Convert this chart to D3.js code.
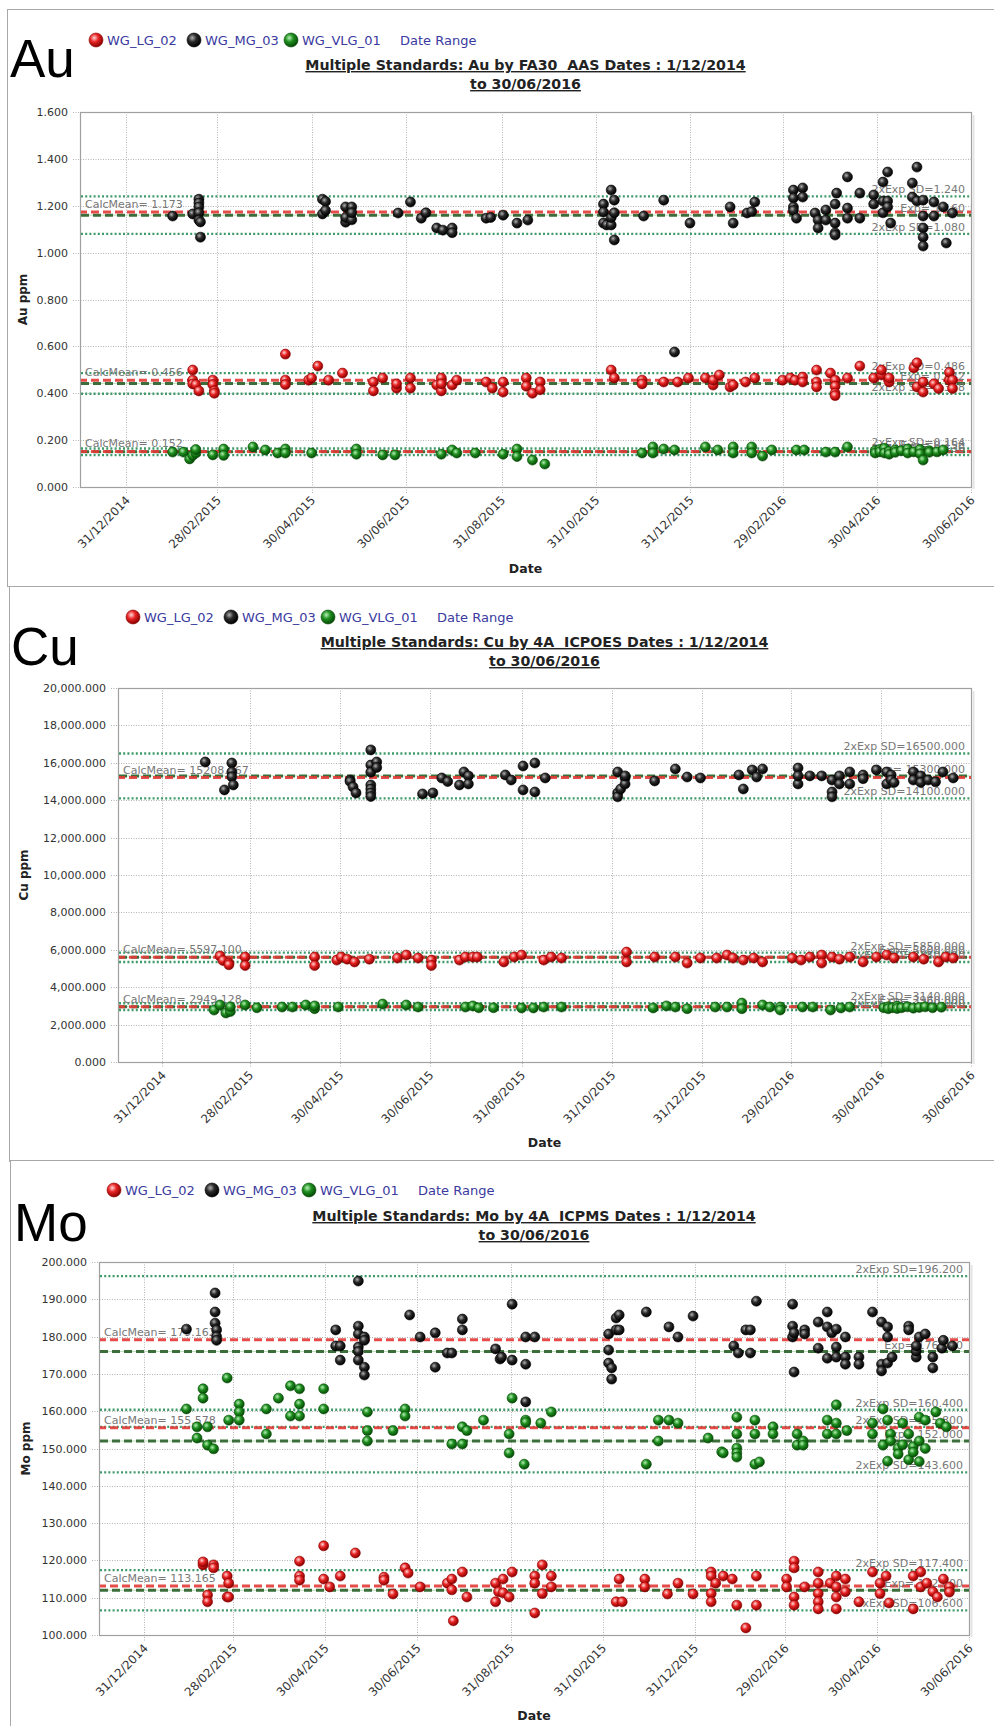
<!DOCTYPE html>
<html><head><meta charset="utf-8">
<script src="https://cdn.jsdelivr.net/npm/d3@7"></script>
<style>
body{margin:0;background:#fff;}
svg{display:block;font-family:"DejaVu Sans",Verdana,sans-serif;}
</style></head><body>
<svg id="c" width="994" height="1726"></svg>
<script>
// ---------- DATA ----------
const seriesNames = ["WG_LG_02","WG_MG_03","WG_VLG_01"];
const xTickDates = ["2014-12-31","2015-02-28","2015-04-30","2015-06-30","2015-08-31","2015-10-31","2015-12-31","2016-02-29","2016-04-30","2016-06-30"];
const dateDomain = ["2014-12-01","2016-06-30"];

const auYTicks = [0,0.2,0.4,0.6,0.8,1.0,1.2,1.4,1.6];
const cuYTicks = [0,2000,4000,6000,8000,10000,12000,14000,16000,18000,20000];
const moYTicks = [100,110,120,130,140,150,160,170,180,190,200];

// [series, CalcMean, Exp, 2xExpSD high, 2xExpSD low]
const auLines = [["WG_MG_03",1.173,1.160,1.240,1.080],["WG_LG_02",0.456,0.442,0.486,0.398],["WG_VLG_01",0.152,0.150,0.164,0.136]];
const cuLines = [["WG_MG_03",15208.267,15300,16500,14100],["WG_LG_02",5597.100,5600,5850,5350],["WG_VLG_01",2949.128,2960,3140,2780]];
const moLines = [["WG_MG_03",179.162,176.0,196.2,155.8],["WG_VLG_01",155.578,152.0,160.4,143.6],["WG_LG_02",113.165,112.0,117.4,106.6]];

// [date, value, value, ...]
const auMG = [["2015-01-30",1.156],["2015-02-12",1.165],["2015-02-16",1.228,1.212,1.195,1.170,1.139],["2015-02-17",1.131,1.066],["2015-05-07",1.228,1.165],["2015-05-09",1.218,1.180],["2015-05-22",1.195,1.130,1.150],["2015-05-26",1.195,1.140,1.170],["2015-06-25",1.169],["2015-07-03",1.216],["2015-07-10",1.147],["2015-07-13",1.170],["2015-07-20",1.105],["2015-07-24",1.096],["2015-07-30",1.105,1.085],["2015-08-21",1.147],["2015-08-24",1.150],["2015-09-01",1.160],["2015-09-10",1.126],["2015-09-17",1.139],["2015-11-05",1.207,1.173,1.126],["2015-11-07",1.118],["2015-11-10",1.267,1.118,1.150],["2015-11-12",1.224,1.054,1.170],["2015-12-01",1.156],["2015-12-14",1.224],["2015-12-21",0.576],["2015-12-31",1.126],["2016-01-26",1.195],["2016-01-28",1.126],["2016-02-06",1.169],["2016-02-09",1.175],["2016-02-11",1.216],["2016-03-07",1.267,1.233,1.195,1.180],["2016-03-09",1.147],["2016-03-13",1.276,1.237],["2016-03-21",1.169],["2016-03-23",1.139,1.105],["2016-03-28",1.182,1.139],["2016-04-03",1.126,1.207,1.084,1.075],["2016-04-04",1.254],["2016-04-11",1.323,1.190,1.147],["2016-04-19",1.254,1.147],["2016-04-28",1.246,1.207],["2016-05-04",1.301,1.220,1.170],["2016-05-07",1.344,1.220,1.195],["2016-05-09",1.126],["2016-05-23",1.297,1.237],["2016-05-26",1.365,1.220],["2016-05-30",1.224,1.156,1.105,1.066,1.028],["2016-06-06",1.216,1.156],["2016-06-12",1.195],["2016-06-14",1.041],["2016-06-18",1.169]];
const auLG = [["2015-02-12",0.499,0.456,0.440],["2015-02-14",0.437],["2015-02-16",0.410],["2015-02-25",0.456,0.437],["2015-02-26",0.410,0.400],["2015-04-13",0.567,0.456,0.437],["2015-04-28",0.456],["2015-04-30",0.465],["2015-05-04",0.516],["2015-05-11",0.456],["2015-05-20",0.486],["2015-06-09",0.448,0.410],["2015-06-15",0.465],["2015-06-24",0.422,0.440],["2015-07-03",0.465,0.422],["2015-07-20",0.435],["2015-07-23",0.465,0.410,0.440],["2015-07-30",0.435],["2015-08-02",0.456],["2015-08-21",0.448],["2015-08-25",0.422],["2015-09-01",0.448,0.405],["2015-09-16",0.465,0.430],["2015-09-20",0.400],["2015-09-25",0.448,0.415],["2015-11-10",0.499],["2015-11-12",0.465],["2015-11-30",0.456,0.440],["2015-12-14",0.448],["2015-12-23",0.448],["2015-12-30",0.465],["2016-01-10",0.465],["2016-01-15",0.435,0.456],["2016-01-19",0.478],["2016-01-26",0.427],["2016-01-28",0.435],["2016-02-05",0.448],["2016-02-11",0.465],["2016-02-29",0.456],["2016-03-05",0.465],["2016-03-08",0.456],["2016-03-13",0.469,0.448],["2016-03-22",0.499,0.448,0.427],["2016-03-31",0.486],["2016-04-03",0.456,0.430,0.400,0.390],["2016-04-11",0.465],["2016-04-19",0.516],["2016-04-28",0.465],["2016-05-03",0.478,0.499],["2016-05-08",0.448,0.465],["2016-05-24",0.508],["2016-05-26",0.530,0.427],["2016-05-30",0.405,0.448],["2016-06-06",0.440],["2016-06-09",0.420],["2016-06-16",0.456,0.489],["2016-06-18",0.456,0.420]];
const auVLG = [["2015-01-30",0.149],["2015-02-06",0.149],["2015-02-10",0.120],["2015-02-12",0.135],["2015-02-14",0.145,0.160],["2015-02-25",0.137],["2015-03-04",0.162,0.135],["2015-03-23",0.171],["2015-03-31",0.158],["2015-04-08",0.145],["2015-04-13",0.162,0.145],["2015-04-30",0.145],["2015-05-29",0.162,0.140],["2015-06-15",0.137],["2015-06-23",0.137],["2015-07-23",0.140],["2015-07-30",0.158],["2015-08-02",0.145],["2015-08-14",0.145],["2015-09-01",0.140],["2015-09-10",0.162,0.130],["2015-09-20",0.115],["2015-09-28",0.098],["2015-11-30",0.145],["2015-12-07",0.171,0.145],["2015-12-14",0.162],["2015-12-21",0.158],["2016-01-10",0.171],["2016-01-18",0.158],["2016-01-28",0.171,0.145],["2016-02-09",0.171,0.145],["2016-02-16",0.132],["2016-02-22",0.158],["2016-03-09",0.158],["2016-03-14",0.158],["2016-03-28",0.149],["2016-04-03",0.149],["2016-04-11",0.171],["2016-04-29",0.155,0.145],["2016-05-02",0.160,0.150],["2016-05-05",0.165,0.145],["2016-05-08",0.152,0.140],["2016-05-12",0.158,0.148],["2016-05-16",0.155],["2016-05-20",0.162,0.145],["2016-05-24",0.150],["2016-05-28",0.160,0.142],["2016-05-30",0.115],["2016-06-03",0.155,0.148],["2016-06-08",0.150],["2016-06-12",0.158]];

const cuMG = [["2015-01-29",16044],["2015-02-11",14550],["2015-02-16",15990,15510,15250],["2015-02-17",14815],["2015-05-07",15080,15000],["2015-05-09",14710],["2015-05-11",14390],["2015-05-21",16690,15880,15500,14815,14600,14390,14200],["2015-05-25",16045,15750],["2015-06-25",14335],["2015-07-02",14390],["2015-07-08",15190],["2015-07-12",15000],["2015-07-20",14815],["2015-07-23",15510],["2015-07-26",15300,14870],["2015-08-20",15350],["2015-08-24",15080],["2015-09-01",15830,14550],["2015-09-09",15990,14440],["2015-09-16",15190],["2015-11-04",15510,14390,14180],["2015-11-06",14600],["2015-11-09",15190,14870,15300],["2015-11-29",15030],["2015-12-13",15670],["2015-12-21",15240],["2015-12-30",15190],["2016-01-25",15350],["2016-01-28",14600],["2016-02-03",15620],["2016-02-06",15240],["2016-02-10",15670],["2016-03-05",15720,14870,15300],["2016-03-13",15300],["2016-03-21",15300],["2016-03-28",14440,14180,15080],["2016-04-02",15300,14870],["2016-04-09",15510,14870],["2016-04-18",15350,15150],["2016-04-27",15620],["2016-05-04",15510,14870],["2016-05-07",15350,15080],["2016-05-09",14950],["2016-05-22",15510,15080],["2016-05-27",15300,14950],["2016-06-01",15080],["2016-06-06",14980],["2016-06-11",15510],["2016-06-18",15190]];
const cuLG = [["2015-02-08",5670],["2015-02-10",5430],["2015-02-14",5290,5200],["2015-02-25",5615,5160],["2015-04-13",5615,5160],["2015-04-28",5450],["2015-05-01",5615],["2015-05-05",5500],["2015-05-10",5350],["2015-05-20",5500],["2015-06-08",5560],["2015-06-14",5720],["2015-06-22",5560],["2015-07-01",5450,5160],["2015-07-20",5450],["2015-07-24",5615],["2015-07-29",5615],["2015-08-01",5615],["2015-08-19",5350],["2015-08-26",5615],["2015-08-31",5720],["2015-09-15",5450],["2015-09-20",5615],["2015-09-27",5560],["2015-11-10",5880,5350],["2015-11-29",5615],["2015-12-13",5615],["2015-12-21",5290],["2015-12-30",5560],["2016-01-10",5560],["2016-01-17",5720],["2016-01-21",5560],["2016-01-28",5450],["2016-02-04",5560],["2016-02-10",5350],["2016-03-01",5560],["2016-03-07",5450],["2016-03-13",5615],["2016-03-21",5720,5290],["2016-03-28",5615],["2016-04-02",5500],["2016-04-09",5615],["2016-04-18",5350],["2016-04-27",5615],["2016-05-04",5720],["2016-05-09",5560],["2016-05-22",5615],["2016-05-29",5500],["2016-06-08",5350],["2016-06-13",5615],["2016-06-18",5560]];
const cuVLG = [["2015-02-04",2780],["2015-02-08",3050],["2015-02-12",2620],["2015-02-15",2700,2950],["2015-02-25",3050],["2015-03-05",2900],["2015-03-22",2940],["2015-03-29",2940],["2015-04-07",3050],["2015-04-13",2850,3000],["2015-04-29",2940],["2015-05-29",3100],["2015-06-14",3050],["2015-06-22",2940],["2015-07-24",2940],["2015-07-29",3000],["2015-08-02",2900],["2015-08-12",2900],["2015-08-31",2890],["2015-09-08",2890],["2015-09-15",2940],["2015-09-27",2940],["2015-11-28",2890],["2015-12-07",3000],["2015-12-13",2940],["2015-12-21",2850],["2016-01-09",2940],["2016-01-17",2940],["2016-01-27",3150,2850],["2016-02-10",3050],["2016-02-15",2940],["2016-02-22",2940,2780],["2016-03-08",2940],["2016-03-15",2940],["2016-03-27",2780],["2016-04-03",2890],["2016-04-09",2940],["2016-05-02",2900],["2016-05-05",2950,2850],["2016-05-08",2900],["2016-05-11",2980,2860],["2016-05-14",2900],["2016-05-18",2950],["2016-05-22",2880],["2016-05-26",2920],["2016-05-30",2950],["2016-06-04",2900],["2016-06-10",2930]];

const moMG = [["2015-01-28",182.0],["2015-02-16",191.7,186.6,183.6],["2015-02-17",181.8,180.0,179.0],["2015-05-07",181.8,177.5],["2015-05-10",177.5,173.7],["2015-05-22",194.9,182.8,180.7,177.2,176.0,173.7],["2015-05-26",179.9,179.0,171.8,169.7],["2015-06-25",185.8],["2015-07-02",179.9],["2015-07-12",181.0,171.8],["2015-07-20",175.6],["2015-07-23",175.6],["2015-07-30",184.7,181.8],["2015-08-21",176.7],["2015-08-24",174.0],["2015-08-25",174.5],["2015-09-01",188.7,173.7],["2015-09-10",179.9,172.6,162.5],["2015-09-16",179.9],["2015-11-04",180.7,176.4,172.9],["2015-11-06",171.6,168.6],["2015-11-09",181.8,185.0],["2015-11-11",181.8,185.8],["2015-11-29",186.6],["2015-12-14",182.6],["2015-12-20",179.9],["2015-12-30",185.5],["2016-01-26",177.5],["2016-01-29",175.6],["2016-02-03",181.8],["2016-02-06",181.8,175.6],["2016-02-10",189.5],["2016-03-05",188.7,182.8,179.9],["2016-03-06",170.5,181.0],["2016-03-13",181.8,180.7],["2016-03-22",183.9,176.9],["2016-03-28",186.6,182.6,174.2],["2016-03-31",181.0],["2016-04-03",182.0,177.2,174.5],["2016-04-09",179.9,174.5,172.6],["2016-04-18",174.5,172.6],["2016-04-27",186.6],["2016-05-03",183.9,172.6,170.8],["2016-05-07",182.6,179.9,172.9],["2016-05-10",174.5],["2016-05-21",182.8,181.8],["2016-05-26",174.5,176.1,177.5],["2016-05-28",179.9],["2016-06-01",180.7],["2016-06-06",174.5,171.6],["2016-06-12",176.9],["2016-06-13",179.0],["2016-06-19",177.5]];
const moVLG = [["2015-01-28",160.6],["2015-02-04",155.8,152.8],["2015-02-08",166.0,163.5],["2015-02-11",155.8,150.9],["2015-02-15",149.9],["2015-02-24",168.9],["2015-02-25",157.6],["2015-03-04",161.9,159.8,157.6],["2015-03-22",160.6,153.9],["2015-03-30",163.5],["2015-04-07",166.8,158.7],["2015-04-13",166.0,161.9,158.7],["2015-04-29",166.0,160.6],["2015-05-28",159.8,154.8,152.0],["2015-06-14",154.8],["2015-06-22",160.6,158.7],["2015-07-23",151.2],["2015-07-30",155.8,151.2],["2015-08-02",154.8],["2015-08-13",157.6],["2015-08-30",153.9,148.8],["2015-09-01",163.5],["2015-09-09",145.8],["2015-09-10",157.6,157.0],["2015-09-20",156.8],["2015-09-27",159.8],["2015-11-29",145.8],["2015-12-07",157.6,152.0],["2015-12-14",157.6],["2015-12-20",156.8],["2016-01-09",152.8],["2016-01-18",149.1],["2016-01-19",148.8],["2016-01-28",158.4,153.9,150.1,148.8,147.7],["2016-02-09",157.6,153.9,145.8],["2016-02-12",146.4],["2016-02-21",155.8,153.9],["2016-03-08",153.9,150.9],["2016-03-12",152.0,150.9],["2016-03-28",157.6,153.9],["2016-04-03",161.7,156.8,153.9],["2016-04-10",154.8],["2016-04-27",156.8,153.9],["2016-05-04",160.6,150.9],["2016-05-07",157.6,146.6],["2016-05-09",153.9,152.0],["2016-05-14",150.1,148.5],["2016-05-17",156.8,151.0],["2016-05-21",153.9,147.0],["2016-05-24",150.5,149.0],["2016-05-28",152.0,158.4,146.5],["2016-06-01",157.6,150.0],["2016-06-08",159.8],["2016-06-11",156.8],["2016-06-15",155.8]];
const moLG = [["2015-02-08",118.8,119.6],["2015-02-11",110.7,108.9],["2015-02-15",118.8,118.0],["2015-02-24",115.8,110.2],["2015-02-25",113.9,110.2],["2015-04-13",119.8,115.8,114.7],["2015-04-29",123.9,115.0],["2015-05-03",112.9],["2015-05-10",115.8],["2015-05-20",122.0],["2015-06-08",115.5,114.7],["2015-06-14",111.0],["2015-06-22",118.0],["2015-06-24",116.6],["2015-07-02",112.9],["2015-07-20",113.9],["2015-07-23",115.0,112.1],["2015-07-24",103.8],["2015-07-30",116.9],["2015-08-02",110.2],["2015-08-21",113.9,108.9],["2015-08-23",111.6],["2015-08-26",115.0,111.3],["2015-08-30",110.2],["2015-09-01",116.9],["2015-09-16",115.8,113.9,105.9],["2015-09-21",118.8,111.1],["2015-09-27",115.8,112.9],["2015-11-09",108.9],["2015-11-11",115.0],["2015-11-13",108.9],["2015-11-28",115.0,112.9],["2015-12-13",111.0],["2015-12-20",113.9],["2015-12-30",111.0],["2016-01-11",116.9,115.8,111.1,108.9],["2016-01-14",113.9],["2016-01-19",115.8],["2016-01-25",115.0],["2016-01-28",108.0],["2016-02-03",101.9],["2016-02-10",115.8,108.0],["2016-03-01",115.0,112.9],["2016-03-06",119.8,118.0,110.2,108.0],["2016-03-13",112.9],["2016-03-22",116.9,113.9,111.1,108.9,107.0],["2016-03-30",113.9],["2016-04-03",115.8,112.9,110.2,107.0],["2016-04-09",115.0,111.6],["2016-04-18",108.9],["2016-04-27",116.9],["2016-05-02",113.9,111.1],["2016-05-06",115.8],["2016-05-08",108.6],["2016-05-24",115.8,107.0],["2016-05-29",116.9,112.9],["2016-06-02",113.9],["2016-06-06",111.6],["2016-06-09",110.2],["2016-06-13",115.0],["2016-06-17",112.9,111.5]];

// ---------- RENDER ----------
const parse = d3.timeParse("%Y-%m-%d");
const fmtDate = d3.timeFormat("%d/%m/%Y");
const f3 = d3.format(".3f");
function expand(groups){const out=[];groups.forEach(g=>{for(let i=1;i<g.length;i++)out.push({date:parse(g[0]),v:g[i]});});return out;}

const svg = d3.select("#c");
const defs = svg.append("defs");
const palette = {
  "WG_LG_02":["#ffd6d6","#e82424","#8a0000"],
  "WG_MG_03":["#b0b0b0","#2a2a2a","#000000"],
  "WG_VLG_01":["#b6f0b6","#1f8f1f","#064a06"]
};
seriesNames.forEach((s,i)=>{
  const g = defs.append("radialGradient").attr("id","g"+i).attr("cx","38%").attr("cy","35%").attr("r","65%");
  g.append("stop").attr("offset","0%").attr("stop-color",palette[s][0]);
  g.append("stop").attr("offset","45%").attr("stop-color",palette[s][1]);
  g.append("stop").attr("offset","100%").attr("stop-color",palette[s][2]);
});
const fillOf = s => "url(#g"+seriesNames.indexOf(s)+")";

const panels = [
 {el:"Au", top:9, left:7, bottom:586, p:{l:80,t:112,r:971,b:487}, dom:[0,1.6], ticks:auYTicks, tf:d3.format(".3f"),
  title:["Multiple Standards: Au by FA30  AAS Dates : 1/12/2014","to 30/06/2016"], ty:[70,89], leg:{x:96,y:40}, big:{x:10,y:77}, ylx:27, dy:573,
  data:{"WG_LG_02":auLG,"WG_MG_03":auMG,"WG_VLG_01":auVLG}, lines:auLines},
 {el:"Cu", top:586, left:9, bottom:1161, p:{l:118,t:688,r:971,b:1062}, dom:[0,20000], ticks:cuYTicks, tf:d3.format(",.3f"),
  title:["Multiple Standards: Cu by 4A  ICPOES Dates : 1/12/2014","to 30/06/2016"], ty:[647,666], leg:{x:133,y:617}, big:{x:11,y:665}, ylx:28, dy:1147,
  data:{"WG_LG_02":cuLG,"WG_MG_03":cuMG,"WG_VLG_01":cuVLG}, lines:cuLines},
 {el:"Mo", top:1160, left:10, bottom:1800, p:{l:99,t:1262,r:969,b:1635}, dom:[100,200], ticks:moYTicks, tf:d3.format(".3f"),
  title:["Multiple Standards: Mo by 4A  ICPMS Dates : 1/12/2014","to 30/06/2016"], ty:[1221,1240], leg:{x:114,y:1190}, big:{x:14,y:1241}, ylx:30, dy:1720,
  data:{"WG_LG_02":moLG,"WG_MG_03":moMG,"WG_VLG_01":moVLG}, lines:moLines}
];

panels.forEach(P=>{
  const g = svg.append("g");
  const p = P.p;
  g.append("rect").attr("x",P.left+0.5).attr("y",P.top+0.5).attr("width",1000-P.left).attr("height",P.bottom-P.top)
    .attr("fill","#fff").attr("stroke","#a8a8a8").attr("stroke-width",1);

  const x = d3.scaleTime().domain(dateDomain.map(parse)).range([p.l,p.r]);
  const y = d3.scaleLinear().domain(P.dom).range([p.b,p.t]);
  const cx = (p.l+p.r)/2;

  g.append("text").attr("x",P.big.x).attr("y",P.big.y).attr("font-family","'Liberation Sans',Arial,sans-serif")
    .attr("font-size",53).attr("fill","#000").text(P.el);

  const legItems = seriesNames.concat(["Date Range"]);
  const legOff = [0,98,195,304];
  legItems.forEach((s,i)=>{
    const lx = P.leg.x + legOff[i];
    if(i<3){
      g.append("circle").attr("cx",lx).attr("cy",P.leg.y).attr("r",7).attr("fill",fillOf(s)).attr("stroke",palette[s][2]).attr("stroke-width",0.6);
      g.append("text").attr("x",lx+11).attr("y",P.leg.y+4.5).attr("font-size",13).attr("fill","#3a3aa0").text(s);
    } else {
      g.append("text").attr("x",lx).attr("y",P.leg.y+4.5).attr("font-size",13).attr("fill","#3a3aa0").text(s);
    }
  });

  P.title.forEach((t,i)=>{
    g.append("text").attr("x",cx).attr("y",P.ty[i]).attr("text-anchor","middle").attr("font-size",14.2)
      .attr("font-weight","bold").attr("fill","#222").attr("text-decoration","underline")
      .attr("xml:space","preserve").style("white-space","pre").text(t);
  });

  const xt = xTickDates.map(parse);
  g.append("g").selectAll("line").data(xt).join("line")
    .attr("x1",d=>Math.round(x(d))+0.5).attr("x2",d=>Math.round(x(d))+0.5).attr("y1",p.t).attr("y2",p.b+6)
    .attr("stroke","#b4b4b4").attr("stroke-dasharray","1,1.5");
  g.append("g").selectAll("line").data(P.ticks).join("line")
    .attr("y1",d=>Math.round(y(d))+0.5).attr("y2",d=>Math.round(y(d))+0.5).attr("x1",p.l-7).attr("x2",p.r)
    .attr("stroke","#b4b4b4").attr("stroke-dasharray","1,1.5");

  const yAxis = d3.axisLeft(y).tickValues(P.ticks).tickFormat(P.tf).tickSize(0).tickPadding(12);
  const ya = g.append("g").attr("transform",`translate(${p.l},0)`).call(yAxis);
  ya.select(".domain").remove();
  ya.selectAll("text").attr("font-size",11).attr("font-family","'DejaVu Sans',Verdana,sans-serif").attr("fill","#333");

  const xAxis = d3.axisBottom(x).tickValues(xt).tickFormat(fmtDate).tickSize(0);
  const xa = g.append("g").attr("transform",`translate(0,${p.b})`).call(xAxis);
  xa.select(".domain").remove();
  xa.selectAll("text").attr("font-size",11.8).attr("font-family","'DejaVu Sans',Verdana,sans-serif").attr("fill","#333")
    .attr("text-anchor","end").attr("dy",null).attr("y",null)
    .attr("transform","translate(4,14) rotate(-45)");

  g.append("rect").attr("x",p.l+0.5).attr("y",p.t+0.5).attr("width",p.r-p.l).attr("height",p.b-p.t)
    .attr("fill","none").attr("stroke","#a0a0a0").attr("stroke-width",1.2);
  g.append("line").attr("x1",p.r+2.5).attr("x2",p.r+2.5).attr("y1",p.t+3).attr("y2",p.b+2).attr("stroke","#e4e4e4").attr("stroke-width",2);

  g.append("text").attr("x",cx).attr("y",P.dy).attr("text-anchor","middle").attr("font-size",12.5).attr("font-weight","bold").attr("fill","#222").text("Date");
  g.append("text").attr("transform",`translate(${P.ylx},${(p.t+p.b)/2}) rotate(-90)`).attr("text-anchor","middle")
    .attr("font-size",12).attr("font-weight","bold").attr("fill","#222").text(P.el+" ppm");

  const lg = g.append("g");
  P.lines.forEach(L=>{
    const [s,cm,ex,hi,lo] = L;
    [hi,lo].forEach(v=>{
      lg.append("line").attr("x1",p.l+1).attr("x2",p.r).attr("y1",y(v)).attr("y2",y(v))
        .attr("stroke","#3f9a6a").attr("stroke-width",2.4).attr("stroke-dasharray","2,2.2");
    });
    lg.append("line").attr("x1",p.l+1).attr("x2",p.r).attr("y1",y(ex)).attr("y2",y(ex))
      .attr("stroke","#b8e0b8").attr("stroke-width",1);
    lg.append("line").attr("x1",p.l+1).attr("x2",p.r).attr("y1",y(ex)).attr("y2",y(ex))
      .attr("stroke","#3b6e3b").attr("stroke-width",3).attr("stroke-dasharray","8,4");
    lg.append("line").attr("x1",p.l+1).attr("x2",p.r).attr("y1",y(cm)).attr("y2",y(cm))
      .attr("stroke","#e23a36").attr("stroke-width",3).attr("stroke-dasharray","8,4").attr("stroke-dashoffset",2).attr("opacity",0.9);
  });
  const labs = g.append("g").attr("font-size",11).attr("fill","#787878");
  P.lines.forEach(L=>{
    const [s,cm,ex,hi,lo] = L;
    labs.append("text").attr("x",p.l+5).attr("y",y(cm)-4).text("CalcMean= "+f3(cm));
    labs.append("text").attr("x",p.r-6).attr("y",y(hi)-3).attr("text-anchor","end").text("2xExp SD="+f3(hi));
    labs.append("text").attr("x",p.r-6).attr("y",y(ex)-3).attr("text-anchor","end").text("Exp= "+f3(ex));
    labs.append("text").attr("x",p.r-6).attr("y",y(lo)-3).attr("text-anchor","end").text("2xExp SD="+f3(lo));
  });

  seriesNames.forEach(s=>{
    const pts = expand(P.data[s]);
    g.append("g").selectAll("circle").data(pts).join("circle")
      .attr("cx",d=>x(d.date)).attr("cy",d=>y(d.v)).attr("r",5)
      .attr("fill",fillOf(s)).attr("stroke",palette[s][2]).attr("stroke-width",0.6);
  });
});
</script>
</body></html>
